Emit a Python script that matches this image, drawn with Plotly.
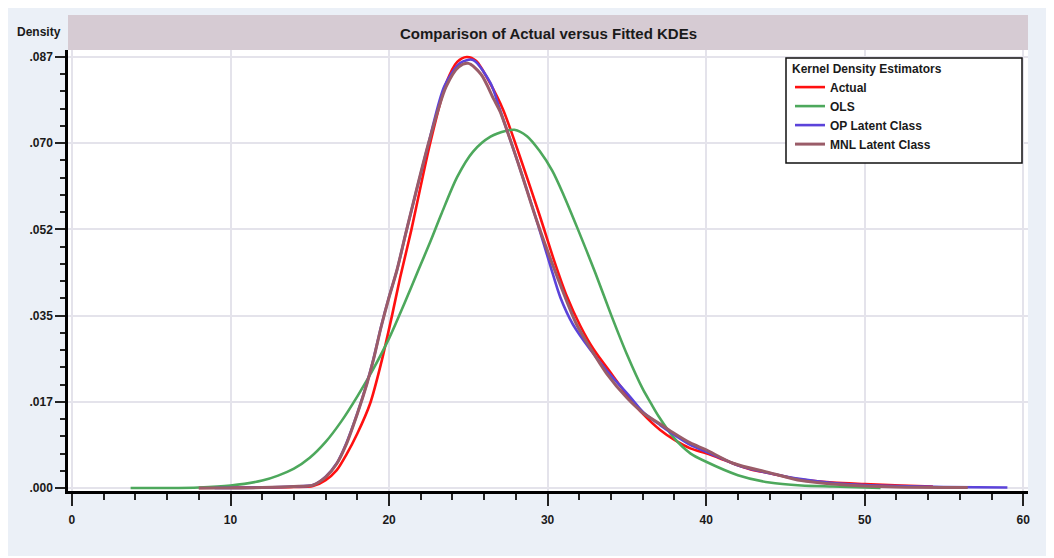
import plotly.graph_objects as go

# ---------------- data ----------------
actual_x = [8, 10, 12, 14, 15.2, 16, 16.7, 17.3, 18, 18.8, 19.5, 20.2, 20.7, 21.4, 22, 22.6, 23.6,
            24.3, 24.9, 25.5, 26.4, 27.2, 28.4, 29.5, 30.4, 31.2, 32.05, 32.9, 33.9, 35.2, 36,
            37.1, 38, 39, 40, 41.1, 42, 43, 44, 45, 46, 48, 50, 52.3, 54.3]
actual_y = [0, 0.0001, 0.0001, 0.0002, 0.0004, 0.0016, 0.0036, 0.0067, 0.0110, 0.0170, 0.0252,
            0.0350, 0.0425, 0.0520, 0.0610, 0.0697, 0.0817, 0.0860, 0.0870, 0.0862, 0.0815,
            0.0763, 0.0655, 0.0550, 0.0460, 0.0388, 0.0328, 0.0280, 0.0236, 0.0180, 0.0150,
            0.0117, 0.0097, 0.0080, 0.0070, 0.0057, 0.0046, 0.0036, 0.0030, 0.0023, 0.0017,
            0.0011, 0.0008, 0.0005, 0.0003]

ols_x = [3.7, 6, 8, 10, 12, 13, 14, 15, 16, 17, 18, 19, 20, 21, 21.85, 22.6, 23.3, 24.3, 25.3,
         26.4, 27.4, 27.9, 28.7, 29.5, 30.3, 31.0, 31.9, 33, 34, 35, 36, 36.5, 37, 38, 39, 40,
         42, 44, 46, 48, 50, 51]
ols_y = [0, 0, 0.0001, 0.0005, 0.0015, 0.0025, 0.0039, 0.0061, 0.0093, 0.0135, 0.0185, 0.0240,
         0.0302, 0.0375, 0.0440, 0.0497, 0.0553, 0.0628, 0.0679, 0.0709, 0.0721, 0.0723, 0.0710,
         0.0680, 0.0640, 0.0592, 0.0523, 0.0435, 0.0350, 0.0270, 0.0200, 0.0172, 0.0145, 0.0100,
         0.0070, 0.0053, 0.0026, 0.0011, 0.0005, 0.0003, 0.0001, 0.0]

op_x = [9, 12, 14, 15.2, 16, 16.7, 17.3, 18, 18.6, 19, 19.5, 20, 20.5, 21.1, 22.5, 23.5, 24.5,
        25.3, 26.4, 27.0, 28.2, 29.3, 30.16, 30.8, 31.6, 32.7, 33.7, 35.2, 36, 37.1, 38, 39, 40,
        41.1, 42, 43, 44, 46, 48, 50, 52, 55, 59]
op_y = [0, 0.0001, 0.0003, 0.0006, 0.0023, 0.0050, 0.0090, 0.0151, 0.0211, 0.0258, 0.0326,
        0.0386, 0.0440, 0.0520, 0.0697, 0.0812, 0.0858, 0.0864, 0.0817, 0.0763, 0.0650, 0.0541,
        0.0450, 0.0385, 0.0330, 0.0279, 0.0238, 0.0184, 0.0154, 0.0127, 0.0107, 0.0087, 0.0073,
        0.0058, 0.0046, 0.0037, 0.0030, 0.0018, 0.0010, 0.0006, 0.0004, 0.0002, 0.0001]

mnl_x = [8, 12, 14, 15.2, 16, 16.7, 17.3, 18, 18.6, 19, 19.5, 20, 20.5, 21.1, 22.5, 23.6, 24.4,
         25.0, 25.8, 26.6, 27.0, 28.2, 29.3, 30.6, 31.8, 32.7, 33.7, 35, 36, 37.1, 38, 39, 40,
         41.7, 44, 46, 48, 50, 52, 56.5]
mnl_y = [0, 0.0001, 0.0003, 0.0006, 0.0022, 0.0049, 0.0088, 0.0150, 0.0210, 0.0257, 0.0325,
         0.0385, 0.0440, 0.0520, 0.0697, 0.0810, 0.0850, 0.0857, 0.0835, 0.0785, 0.0760, 0.0650,
         0.0541, 0.0427, 0.0332, 0.0282, 0.0232, 0.0182, 0.0152, 0.0129, 0.0110, 0.0091, 0.0077,
         0.0050, 0.0031, 0.0015, 0.0008, 0.0004, 0.0002, 0.0001]

series_names = ["Actual", "OLS", "OP Latent Class", "MNL Latent Class"]
series_colors = ["#FF1010", "#4DA85C", "#5B43DA", "#9A5C68"]

y_tickvals = [0.0, 0.0174, 0.0348, 0.0522, 0.0696, 0.087]
y_ticktext = [".000", ".017", ".035", ".052", ".070", ".087"]
x_tickvals = [0, 10, 20, 30, 40, 50, 60]

title_text = "Comparison of Actual versus Fitted KDEs"
y_title = "Density"
legend_title = "Kernel Density Estimators"

# ---------------- figure ----------------
# the page body has an 8px margin, so the figure is drawn 8px in from the window corner
OFF = 8
W, H = 1054 - OFF, 558 - OFF
L, R, T, B = 68 - OFF, 1028 - OFF, 50 - OFF, 491 - OFF
pw, ph = R - L, B - T


def px2x(px):  # px given in reference-window pixels
    return (px - OFF - L) / pw


def py2y(py):
    return 1 - (py - OFF - T) / ph


FONT = "Arial, Liberation Sans, sans-serif"

fig = go.Figure()
for xs, ys, name, col, w in zip([actual_x, ols_x, op_x, mnl_x],
                                [actual_y, ols_y, op_y, mnl_y],
                                series_names, series_colors, [2.6, 2.6, 2.6, 3.0]):
    fig.add_trace(go.Scatter(x=xs, y=ys, name=name, mode="lines",
                             line=dict(color=col, width=w, shape="spline", smoothing=0.8)))

shapes = [
    # light blue page background (with thin white border at right/bottom)
    dict(type="rect", xref="paper", yref="paper", layer="below",
         x0=px2x(OFF), x1=px2x(1049), y0=py2y(556), y1=py2y(OFF),
         fillcolor="#EBF0F7", line=dict(width=0)),
    # white plot area
    dict(type="rect", xref="paper", yref="paper", layer="below",
         x0=0, x1=1, y0=0, y1=1, fillcolor="white", line=dict(width=0)),
    # title bar
    dict(type="rect", xref="paper", yref="paper", layer="below",
         x0=0, x1=1, y0=1, y1=py2y(15), fillcolor="#D6CBD3", line=dict(width=0)),
    # legend box
    dict(type="rect", xref="paper", yref="paper", layer="above",
         x0=px2x(786), x1=px2x(1022), y0=py2y(163), y1=py2y(58),
         fillcolor="white", line=dict(color="#111111", width=1.5)),
]

annotations = [
    dict(text="<b>" + title_text + "</b>", xref="paper", yref="paper",
         x=0.5, y=py2y(33), xanchor="center", yanchor="middle", showarrow=False,
         font=dict(family=FONT, size=15, color="#1a1a1a")),
    dict(text="<b>" + y_title + "</b>", xref="paper", yref="paper",
         x=px2x(15), y=py2y(32), xanchor="left", yanchor="middle", showarrow=False,
         font=dict(family=FONT, size=12, color="#1a1a1a")),
]

fig.update_layout(
    width=W, height=H,
    margin=dict(l=L, r=W - R, t=T, b=H - B, pad=0),
    paper_bgcolor="white", plot_bgcolor="white",
    font=dict(family=FONT, size=12, color="#1a1a1a"),
    shapes=shapes, annotations=annotations,
    showlegend=True,
    legend=dict(x=px2x(790), y=py2y(57), xanchor="left", yanchor="top",
                bgcolor="rgba(0,0,0,0)", borderwidth=0,
                title=dict(text="<b>" + legend_title + "</b>",
                           font=dict(family=FONT, size=12, color="#1a1a1a")),
                font=dict(family=FONT, size=12, color="#1a1a1a", weight="bold"),
                tracegroupgap=0, itemwidth=30),
    xaxis=dict(range=[-0.25, 60.3], tickvals=x_tickvals, showgrid=True,
               gridcolor="#E4E3EB", gridwidth=2, zeroline=False,
               showline=True, linecolor="black", linewidth=3,
               ticks="outside", ticklen=12, tickwidth=2, tickcolor="#222",
               ticklabelstandoff=4,
               tickfont=dict(family=FONT, size=12, color="#1a1a1a", weight="bold"),
               minor=dict(dtick=2, tick0=0, ticks="outside", ticklen=6, tickwidth=1.5,
                          tickcolor="#222", showgrid=False)),
    yaxis=dict(range=[-0.0006, 0.0884], tickvals=y_tickvals, ticktext=y_ticktext,
               showgrid=True, gridcolor="#E4E3EB", gridwidth=2, zeroline=False,
               showline=True, linecolor="black", linewidth=2.5,
               ticks="outside", ticklen=10, tickwidth=1.5, tickcolor="#222",
               tickfont=dict(family=FONT, size=12, color="#1a1a1a", weight="bold"),
               minor=dict(dtick=0.00348, tick0=0, ticks="outside", ticklen=5, tickwidth=1.5,
                          tickcolor="#222", showgrid=False)),
)

fig.write_html("out.html")
